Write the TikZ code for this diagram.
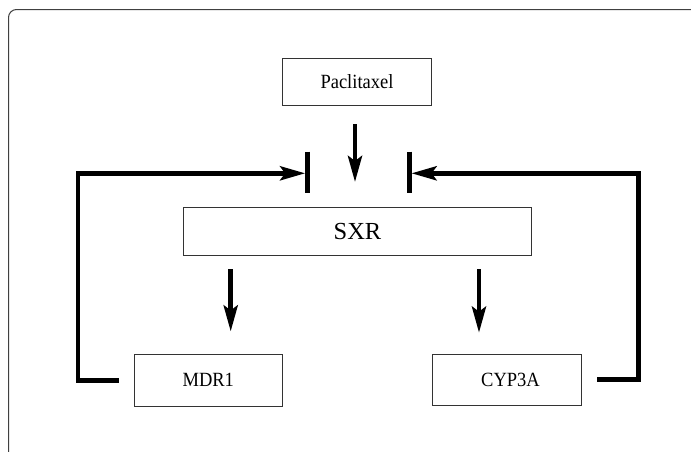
\documentclass[tikz,border=0pt]{standalone}
\usepackage{fontspec}
\setmainfont{Liberation Serif}
\usetikzlibrary{arrows.meta,calc}
\newcommand{\tallt}[1]{\scalebox{1}[1.09]{#1}}
\begin{document}
\begin{tikzpicture}[x=1pt,y=-1pt,
  box/.style={draw=black!80, line width=0.9pt, rectangle, inner sep=0pt, font=\fontsize{18.5}{20}\selectfont},
  thickarr/.style={line width=4.6pt, -{Stealth[length=26pt,width=14pt,inset=5pt]}},
  fbline/.style={line width=4.6pt, line join=miter, -{Stealth[length=25pt,width=14pt,inset=5pt]}},
  barline/.style={line width=5pt}]
\useasboundingbox (0,0) rectangle (691,451);
\fill[white] (0,0) rectangle (691,451);
% frame
\draw[black!75, line width=1pt, rounded corners=8pt] (8.5,455) -- (8.5,9.5) -- (695,9.5);
% nodes
\node[box, minimum width=149.4pt, minimum height=47.7pt] (pac) at (357,82) {\tallt{Paclitaxel}};
\node[box, minimum width=348.4pt, minimum height=48pt, font=\fontsize{24.5}{26}\selectfont] (sxr) at (357.5,231.7) {SXR};
\node[box, minimum width=148.7pt, minimum height=52pt] (mdr) at (208.3,380.2) {\tallt{MDR1}};
\node[box, minimum width=149pt, minimum height=50.5pt, text width=149pt, align=center] (cyp) at (506.5,379.7) {\hspace*{8pt}\tallt{CYP3A}};
% coordinates
\coordinate (gap) at (355,182);
\coordinate (barL) at (305.2,173.3);
\coordinate (barR) at (411.5,173.3);
\coordinate (xL) at (230.7,0);
\coordinate (xR) at (479,0);
% bars
\draw[barline] (307.7,151.7) -- (307.7,193);
\draw[barline] (409,151.7) -- (409,193);
% arrows
\draw[thickarr, shorten <=18pt] (pac.south -| gap) -- (gap);
\draw[thickarr, shorten <=13.3pt, shorten >=22.3pt] (sxr.south -| xL) -- (mdr.north -| xL);
\draw[thickarr, shorten <=13.3pt, shorten >=21.3pt] (sxr.south -| xR) -- (cyp.north -| xR);
% feedback loops
\draw[fbline] ([xshift=-14.7pt]mdr.west) -- ++(-41,0) |- (barL);
\draw[fbline] ([xshift=16pt]cyp.east) -- ++(41,0) |- (barR);
\end{tikzpicture}
\end{document}
